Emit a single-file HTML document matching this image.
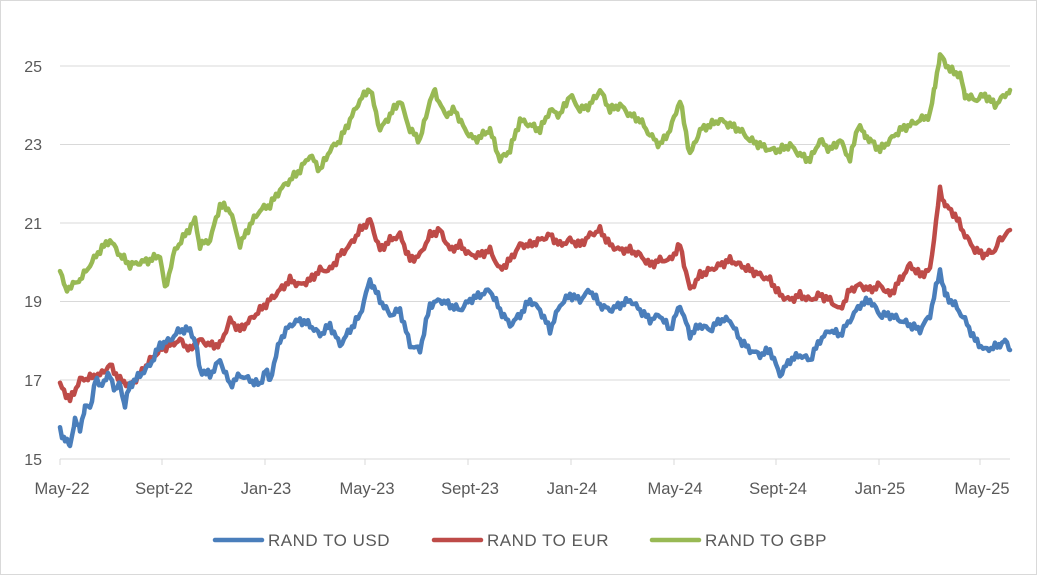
<!DOCTYPE html>
<html><head><meta charset="utf-8"><style>
html,body{margin:0;padding:0;background:#fff;}
svg{display:block;font-family:"Liberation Sans",Arial,sans-serif;}
</style></head><body>
<svg id="s" width="1042" height="576" viewBox="0 0 1042 576">
<rect x="0.5" y="0.5" width="1036" height="574" fill="#fff" stroke="#d9d9d9"/>
<g stroke="#d9d9d9" stroke-width="1">
<line x1="60" x2="1010" y1="66" y2="66"/>
<line x1="60" x2="1010" y1="144.5" y2="144.5"/>
<line x1="60" x2="1010" y1="223" y2="223"/>
<line x1="60" x2="1010" y1="301.5" y2="301.5"/>
<line x1="60" x2="1010" y1="380" y2="380"/>
<line x1="60" x2="1010" y1="459" y2="459"/>
<g id="ticks"></g>
</g>
<g fill="#595959" font-size="16" text-anchor="end">
<text x="42" y="72">25</text><text x="42" y="150">23</text><text x="42" y="229">21</text>
<text x="42" y="307">19</text><text x="42" y="386">17</text><text x="42" y="465">15</text>
</g>
<g fill="#595959" font-size="16.5" text-anchor="middle">
<text x="62" y="494">May-22</text><text x="164" y="494">Sept-22</text><text x="266" y="494">Jan-23</text>
<text x="367" y="494">May-23</text><text x="470" y="494">Sept-23</text><text x="572" y="494">Jan-24</text>
<text x="675" y="494">May-24</text><text x="778" y="494">Sept-24</text><text x="880" y="494">Jan-25</text>
<text x="982" y="494">May-25</text>
</g>
<g id="lines" fill="none" stroke-width="4.5" stroke-linejoin="round" stroke-linecap="round"></g>
<g font-size="17" fill="#595959" letter-spacing="0.5">
<line x1="215" x2="262" y1="540" y2="540" stroke="#4a7ebb" stroke-width="4.5" stroke-linecap="round"/>
<text x="268" y="546">RAND TO USD</text>
<line x1="434" x2="481" y1="540" y2="540" stroke="#be4b48" stroke-width="4.5" stroke-linecap="round"/>
<text x="487" y="546">RAND TO EUR</text>
<line x1="652" x2="699" y1="540" y2="540" stroke="#98b954" stroke-width="4.5" stroke-linecap="round"/>
<text x="705" y="546">RAND TO GBP</text>
</g>
</svg>
<script>
var NS="http://www.w3.org/2000/svg";
var tk=document.getElementById("ticks");
[60,162,265,365,468,571,674,776,879,980].forEach(function(x){var l=document.createElementNS(NS,"line");l.setAttribute("x1",x);l.setAttribute("x2",x);l.setAttribute("y1",459);l.setAttribute("y2",465);tk.appendChild(l);});
var G=[60,268,65,290,80,280,100,250,110,240,120,255,130,265,150,260,160,255,165,290,175,250,185,235,195,220,200,245,210,240,220,205,230,210,240,245,250,225,260,210,270,205,280,190,290,180,300,170,310,155,320,170,330,150,340,140,350,120,360,100,370,88,380,130,390,115,400,100,410,130,420,140,430,100,435,92,445,115,455,110,465,130,475,140,490,130,500,160,510,150,520,120,530,125,540,130,550,110,560,115,570,95,580,110,590,105,600,90,610,110,620,105,630,115,640,120,650,135,660,145,670,130,680,100,690,155,700,130,710,125,720,120,730,125,740,130,750,140,760,145,770,150,780,150,790,145,800,155,810,160,820,140,830,150,840,140,850,160,858,125,865,135,870,140,880,150,890,140,900,130,910,125,920,120,930,115,935,85,940,55,950,70,960,75,965,95,975,100,985,95,995,105,1010,90];
var R=[60,385,70,400,80,380,100,375,110,365,120,380,130,385,140,375,150,360,160,350,170,345,180,340,190,350,200,340,210,345,220,345,230,320,240,330,250,320,260,310,270,300,280,290,290,280,300,285,310,280,320,270,330,270,340,255,350,245,360,230,370,220,380,250,390,240,400,235,410,260,420,255,430,235,440,230,450,250,460,245,470,255,480,255,490,250,500,270,510,260,520,245,530,245,540,240,550,235,560,245,570,240,580,245,590,235,600,230,610,245,620,250,630,250,640,255,650,265,660,260,670,260,680,245,690,290,700,275,710,270,720,265,730,260,740,265,750,270,760,275,770,280,780,295,790,300,800,295,810,300,820,295,830,300,840,310,850,290,860,285,870,290,880,285,890,295,900,280,910,265,920,275,930,270,940,190,945,205,955,215,965,235,975,250,985,255,995,250,1000,240,1010,230];
var B=[60,430,65,440,70,445,75,420,80,430,85,405,90,410,95,380,100,385,110,375,115,390,120,385,125,405,130,385,140,375,150,365,160,345,170,340,180,330,190,330,195,340,200,370,210,375,220,360,230,385,240,375,250,380,260,385,265,370,270,380,280,340,290,325,300,320,310,325,320,335,330,325,340,345,350,330,360,315,370,280,380,300,390,315,400,310,410,345,420,350,430,305,440,300,450,305,460,310,470,300,480,295,490,290,500,310,510,325,520,315,530,300,540,310,550,330,560,305,570,295,580,300,590,290,600,305,610,310,620,305,630,300,640,310,650,320,660,315,670,330,680,305,690,335,700,325,710,330,720,320,730,320,740,340,750,350,760,355,770,350,780,375,790,360,800,355,810,360,820,340,830,330,840,335,850,320,860,305,870,300,880,315,890,315,900,320,910,325,920,330,930,315,940,270,945,295,955,305,965,320,975,340,985,350,1000,345,1005,340,1010,350];
function path(a,seed){var pts=[];for(var i=0;i<a.length-2;i+=2){var x0=a[i],y0=a[i+1],x1=a[i+2],y1=a[i+3];for(var x=x0;x<x1;x+=2){var t=(x-x0)/(x1-x0);var y=y0+(y1-y0)*t+2.5*Math.sin(x*1.7+seed)+1.8*Math.sin(x*0.63+seed*2);pts.push(x.toFixed(0)+","+y.toFixed(1));}}pts.push(a[a.length-2]+","+a[a.length-1]);return pts.join(" ");}
var L=document.getElementById("lines");
[[G,"#98b954",1],[R,"#be4b48",2],[B,"#4a7ebb",3]].forEach(function(s){var p=document.createElementNS(NS,"polyline");p.setAttribute("points",path(s[0],s[2]));p.setAttribute("stroke",s[1]);L.appendChild(p);});
</script>
</body></html>
